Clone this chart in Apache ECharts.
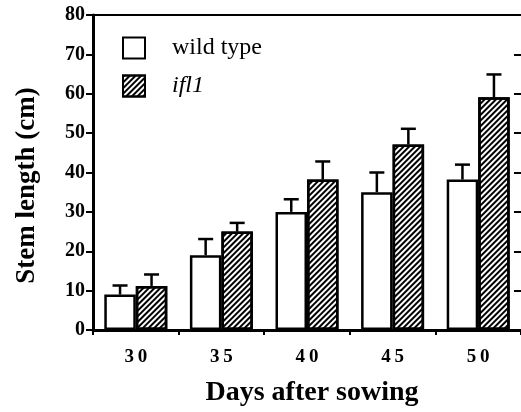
<!DOCTYPE html>
<html><head><meta charset="utf-8">
<script src="https://cdn.jsdelivr.net/npm/echarts@6/dist/echarts.min.js"></script>
<style>html,body{margin:0;padding:0;background:#fff}#c{width:521px;height:412px}</style>
</head><body><div id="c"></div>
<script>
var categories = ['30', '35', '40', '45', '50'];
var wildType = [9, 19, 30, 35, 38.2];
var wildTypeErr = [2.3, 4.1, 3.2, 5, 3.8];
var ifl1 = [11.2, 25, 38.2, 47.1, 59.1];
var ifl1Err = [2.9, 2.2, 4.6, 4, 5.8];
var yTicks = [0, 10, 20, 30, 40, 50, 60, 70, 80];

var chart = echarts.init(document.getElementById('c'), null, {renderer: 'canvas'});
var serif = '"Liberation Serif", "DejaVu Serif", serif';
var BAR_W = 31.5;

function errSeries(vals, errs, offset) {
  return {
    type: 'custom',
    z: 5,
    silent: true,
    data: vals.map(function (v, i) { return [i, v, v + errs[i]]; }),
    encode: {x: 0, y: [1, 2]},
    renderItem: function (params, api) {
      var i = api.value(0);
      var p0 = api.coord([i, api.value(1)]);
      var p1 = api.coord([i, api.value(2)]);
      var x = p0[0] + offset;
      var st = {stroke: '#000', lineWidth: 2.5};
      return {
        type: 'group',
        children: [
          {type: 'line', shape: {x1: x, y1: p0[1], x2: x, y2: p1[1]}, style: st},
          {type: 'line', shape: {x1: x - 7.5, y1: p1[1], x2: x + 7.5, y2: p1[1]}, style: st}
        ]
      };
    }
  };
}

var hatch = {
  symbol: 'rect',
  symbolSize: 1,
  color: '#000',
  dashArrayX: [[1, 0]],
  dashArrayY: [1.6, 1.7],
  rotation: -Math.PI / 4
};

chart.setOption({
  animation: false,
  backgroundColor: '#fff',
  grid: {left: 93, top: 15, width: 429, bottom: 82, show: false, containLabel: false},
  legend: {
    left: 117, top: 31, orient: 'vertical', itemWidth: 22, itemHeight: 21, itemGap: 14,
    icon: 'rect',
    textStyle: {fontFamily: serif, fontSize: 24, color: '#000', padding: [0, 0, 0, 22]},
    data: [{name: 'wild type'}, {name: 'ifl1', textStyle: {fontStyle: 'italic'}}]
  },
  xAxis: [{
    type: 'category',
    data: categories,
    name: 'Days after sowing',
    nameLocation: 'middle',
    nameGap: 49,
    nameTextStyle: {fontFamily: serif, fontSize: 28, fontWeight: 'bold', color: '#000', padding: [0, 0, 0, 10]},
    axisLine: {onZero: false, lineStyle: {color: '#000', width: 3}},
    axisTick: {show: true, length: 5, lineStyle: {color: '#000', width: 2}},
    axisLabel: {
      margin: 18, fontFamily: serif, fontSize: 19, fontWeight: 'bold', color: '#000',
      formatter: function (v) { return v.split('').join('\u2009'); }
    }
  }, {
    type: 'category',
    data: categories,
    position: 'top',
    axisLine: {show: true, onZero: false, lineStyle: {color: '#000', width: 2}},
    axisTick: {show: false},
    axisLabel: {show: false}
  }],
  yAxis: [{
    type: 'value', min: yTicks[0], max: yTicks[yTicks.length - 1], interval: 10,
    name: 'Stem length (cm)',
    nameLocation: 'middle',
    nameGap: 52,
    nameTextStyle: {fontFamily: serif, fontSize: 27, fontWeight: 'bold', color: '#000', padding: [0, 26, 0, 0]},
    axisLine: {show: true, onZero: false, lineStyle: {color: '#000', width: 3}},
    axisTick: {show: true, length: 7, lineStyle: {color: '#000', width: 2}},
    axisLabel: {margin: 8, fontFamily: serif, fontSize: 20, fontWeight: 'bold', color: '#000'},
    splitLine: {show: false}
  }, {
    type: 'value', min: yTicks[0], max: yTicks[yTicks.length - 1], interval: 10, position: 'right',
    axisLine: {show: false, onZero: false},
    axisTick: {show: true, inside: true, length: 7, lineStyle: {color: '#000', width: 2}},
    axisLabel: {show: false},
    splitLine: {show: false}
  }],
  series: [{
    name: 'wild type', type: 'bar', data: wildType, barWidth: BAR_W, barGap: '0%',
    itemStyle: {color: '#fff', borderColor: '#000', borderWidth: 2.5}
  }, {
    name: 'ifl1', type: 'bar', data: ifl1, barWidth: BAR_W, barGap: '0%',
    itemStyle: {color: '#fff', borderColor: '#000', borderWidth: 2.5, decal: hatch}
  },
  errSeries(wildType, wildTypeErr, -BAR_W / 2),
  errSeries(ifl1, ifl1Err, BAR_W / 2)
  ]
});
</script></body></html>
